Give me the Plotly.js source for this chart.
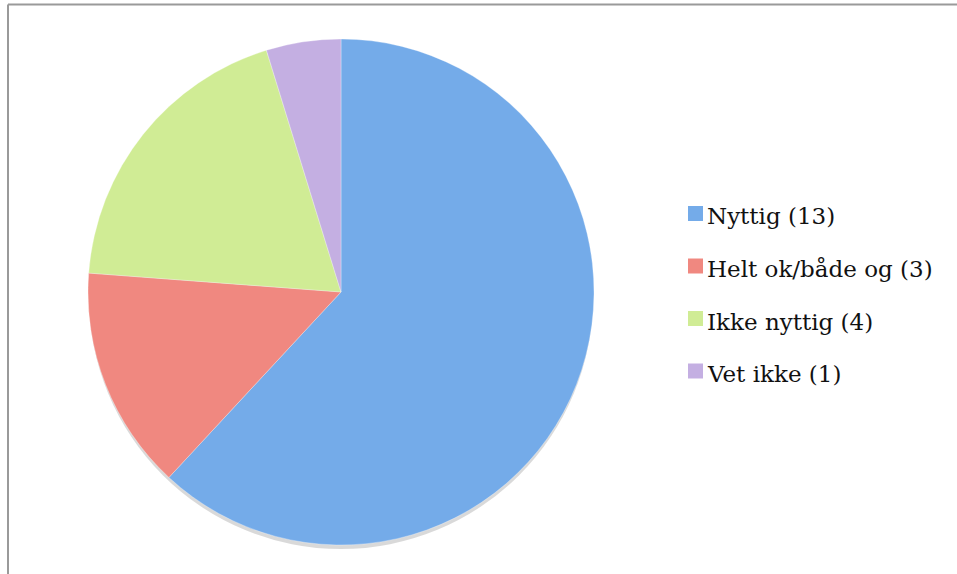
<!DOCTYPE html>
<html>
<head>
<meta charset="utf-8">
<script src="https://cdn.plot.ly/plotly-3.0.1.min.js"></script>
<style>
html,body{margin:0;padding:0;background:#fff;}
#chart{width:957px;height:574px;}
</style>
</head>
<body>
<div id="chart"></div>
<script>
const categories = ["Nyttig", "Helt ok/både og", "Ikke nyttig", "Vet ikke"];
const counts = [13, 3, 4, 1];
const colors = ["#74abe9", "#f08880", "#d0ec95", "#c4afe2"];
const legendLabels = categories.map((c, i) => c + " (" + counts[i] + ")");

const W = 957, H = 574;
const px = x => x / W;
const py = y => 1 - y / H;

const shadow = {
  type: "pie",
  values: [1],
  labels: ["shadow"],
  sort: false,
  textinfo: "none",
  hoverinfo: "skip",
  marker: { colors: ["rgba(0,0,0,0.15)"], line: { width: 0 } },
  domain: { x: [px(89), px(593)], y: [py(549), py(45)] },
  showlegend: false
};

const trace = {
  type: "pie",
  labels: categories,
  values: counts,
  sort: false,
  direction: "clockwise",
  rotation: 0,
  textinfo: "none",
  hoverinfo: "label+value+percent",
  marker: { colors: colors, line: { color: "rgba(255,255,255,0.6)", width: 0.5 } },
  domain: { x: [px(88), px(594)], y: [py(545), py(39)] },
  showlegend: false
};

const shapes = [
  { type: "line", xref: "paper", yref: "paper", x0: px(8), x1: px(8), y0: 0, y1: py(4.5), line: { color: "#9a9a9a", width: 2 } },
  { type: "line", xref: "paper", yref: "paper", x0: px(8), x1: 1, y0: py(4.5), y1: py(4.5), line: { color: "#9a9a9a", width: 2 } }
];
const annotations = [];
const rowTop = 206, rowGap = 52.5, sq = 15;
legendLabels.forEach((t, i) => {
  const top = rowTop + i * rowGap;
  shapes.push({ type: "rect", xref: "paper", yref: "paper", x0: px(688), x1: px(688 + sq), y0: py(top + sq), y1: py(top), fillcolor: colors[i], line: { width: 0 } });
  annotations.push({ xref: "paper", yref: "paper", x: px(705), y: py(top + sq / 2 + 3), xanchor: "left", yanchor: "middle", showarrow: false, text: t, font: { family: "DejaVu Serif, serif", size: 23, color: "#111" } });
});

const layout = {
  width: W, height: H,
  margin: { l: 0, r: 0, t: 0, b: 0 },
  paper_bgcolor: "#fff",
  showlegend: false,
  shapes: shapes,
  annotations: annotations
};
Plotly.newPlot("chart", [shadow, trace], layout, { displayModeBar: false, staticPlot: true });
</script>
</body>
</html>
